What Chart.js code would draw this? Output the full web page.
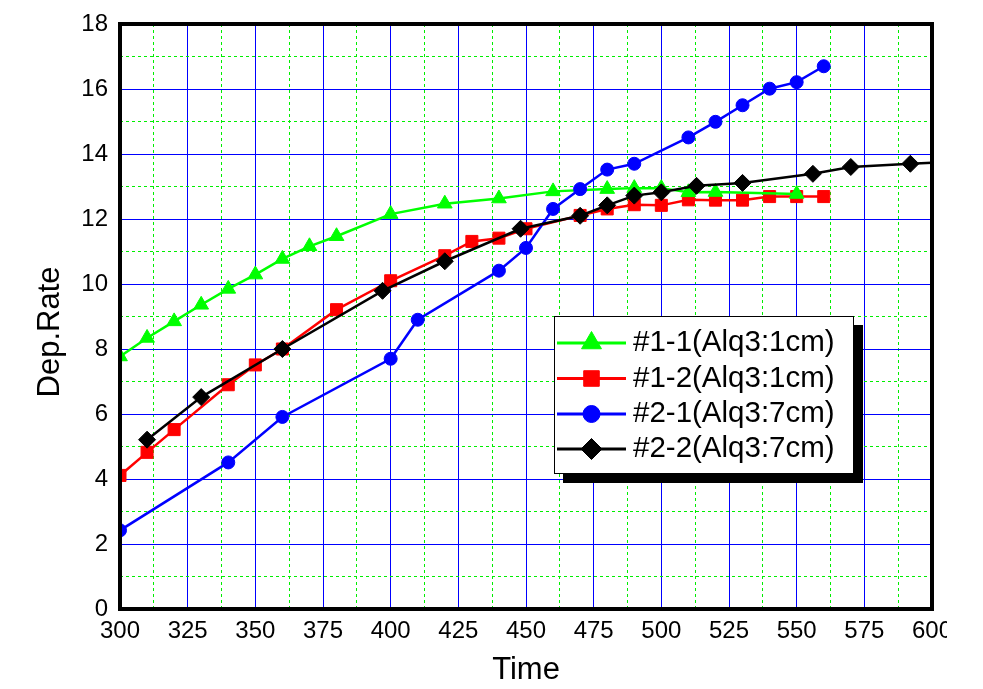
<!DOCTYPE html>
<html>
<head>
<meta charset="utf-8">
<script src="https://cdn.jsdelivr.net/npm/chart.js@4/dist/chart.umd.min.js"></script>
<style>
  html, body { margin: 0; padding: 0; background: #ffffff; }
  #wrap { position: absolute; left: 0; top: 0; width: 947px; height: 689px; }
</style>
</head>
<body>
<div id="wrap"><canvas id="c" width="947" height="689"></canvas></div>
<script>
// ---- data ----
const seriesLabels = ['#1-1(Alq3:1cm)', '#1-2(Alq3:1cm)', '#2-1(Alq3:7cm)', '#2-2(Alq3:7cm)'];

const time11 = [300, 310, 320, 330, 340, 350, 360, 370, 380, 400, 420, 440, 460, 480, 490, 500, 510, 520, 550];
const rate11 = [7.77, 8.34, 8.85, 9.36, 9.85, 10.29, 10.77, 11.16, 11.47, 12.15, 12.47, 12.63, 12.85, 12.92, 12.95, 12.95, 12.82, 12.83, 12.77];

const time12 = [300, 310, 320, 340, 350, 360, 380, 400, 420, 430, 440, 450, 470, 480, 490, 500, 510, 520, 530, 540, 550, 560];
const rate12 = [4.11, 4.82, 5.52, 6.90, 7.51, 8.0, 9.21, 10.10, 10.87, 11.31, 11.41, 11.70, 12.11, 12.31, 12.44, 12.42, 12.59, 12.58, 12.58, 12.69, 12.69, 12.69];

const time21 = [300, 340, 360, 400, 410, 440, 450, 460, 470, 480, 490, 510, 520, 530, 540, 550, 560];
const rate21 = [2.42, 4.51, 5.91, 7.70, 8.90, 10.41, 11.11, 12.31, 12.92, 13.52, 13.70, 14.51, 14.99, 15.50, 16.01, 16.21, 16.70];

const time22 = [310, 330, 360, 397, 420, 448, 470, 480, 490, 500, 513, 530, 556, 570, 592, 612];
const rate22 = [5.21, 6.52, 8.0, 9.79, 10.70, 11.70, 12.10, 12.42, 12.72, 12.82, 13.02, 13.11, 13.39, 13.60, 13.70, 13.78];

const xTickLabels = ['300', '325', '350', '375', '400', '425', '450', '475', '500', '525', '550', '575', '600'];
const yTickLabels = ['0', '2', '4', '6', '8', '10', '12', '14', '16', '18'];

const xTitle = 'Time';
const yTitle = 'Dep.Rate';

// ---- helpers ----
function pairs(xs, ys) { return xs.map((x, i) => ({ x: x, y: ys[i] })); }

const FONT = '"Liberation Sans", Arial, "DejaVu Sans", sans-serif';

const colors = ['#00ff00', '#ff0000', '#0000ff', '#000000'];
const styles = ['triangle', 'rect', 'circle', 'rectRot'];
const radii = [8.5, 8.5, 6.5, 8.5];
const legendRadii = [11.5, 11, 8.5, 10.5];
const drawOrder = [2, 3, 1, 0];
const xs = [time11, time12, time21, time22];
const ys = [rate11, rate12, rate21, rate22];

const datasets = seriesLabels.map((label, i) => ({
  label: label,
  data: pairs(xs[i], ys[i]),
  borderColor: colors[i],
  backgroundColor: colors[i],
  borderWidth: 2.5,
  pointStyle: styles[i],
  pointRadius: radii[i],
  pointHoverRadius: radii[i],
  pointBorderWidth: 1,
  pointBorderColor: colors[i],
  pointBackgroundColor: colors[i],
  tension: 0,
  fill: false,
  order: drawOrder[i]
}));

const decorPlugin = {
  id: 'decor',
  afterDraw(chart) {
    const ctx = chart.ctx;
    const a = chart.chartArea;
    ctx.save();
    // thick frame
    ctx.strokeStyle = '#000';
    ctx.lineWidth = 4;
    ctx.strokeRect(a.left, a.top, a.right - a.left, a.bottom - a.top);

    // y axis title
    ctx.fillStyle = '#000';
    ctx.font = '31px ' + FONT;
    ctx.textAlign = 'center';
    ctx.textBaseline = 'middle';
    ctx.translate(50, 332);
    ctx.rotate(-Math.PI / 2);
    ctx.fillText(yTitle, 0, 0);
    ctx.setTransform(1, 0, 0, 1, 0, 0);

    // legend box with shadow
    const bx = 554, by = 316, bw = 299, bh = 157, sh = 9;
    ctx.fillStyle = '#000';
    ctx.fillRect(bx + sh, by + sh, bw + 1, bh + 1);
    ctx.fillStyle = '#fff';
    ctx.fillRect(bx, by, bw, bh);
    ctx.strokeStyle = '#000';
    ctx.lineWidth = 1;
    ctx.strokeRect(bx + 0.5, by + 0.5, bw, bh);

    const rowY = [343, 378.5, 414, 449];
    chart.data.datasets.forEach((ds, i) => {
      const y = rowY[i];
      ctx.strokeStyle = ds.borderColor;
      ctx.lineWidth = 3;
      ctx.beginPath();
      ctx.moveTo(557, y);
      ctx.lineTo(626, y);
      ctx.stroke();
      ctx.fillStyle = ds.backgroundColor;
      ctx.strokeStyle = ds.borderColor;
      ctx.lineWidth = 1;
      Chart.helpers.drawPoint(ctx, { pointStyle: ds.pointStyle, radius: legendRadii[i], rotation: 0, borderWidth: 1 }, 591.5, y);
      ctx.fillStyle = '#000';
      ctx.font = '29.5px ' + FONT;
      ctx.textAlign = 'left';
      ctx.textBaseline = 'middle';
      ctx.fillText(ds.label, 633, y);
    });
    ctx.restore();
  }
};

const isMajorX = v => Math.abs(v % 25) < 1e-6;
const isMajorY = v => Math.abs(v % 2) < 1e-6;

new Chart(document.getElementById('c'), {
  type: 'line',
  data: { datasets: datasets },
  options: {
    responsive: false,
    animation: false,
    events: [],
    layout: { padding: { top: 24, right: 15, left: 0, bottom: 0 } },
    plugins: {
      legend: { display: false },
      tooltip: { enabled: false },
      title: { display: false }
    },
    scales: {
      x: {
        type: 'linear',
        min: 300,
        max: 600,
        afterFit(scale) { scale.height = 80; scale.paddingLeft = 0; scale.paddingRight = 0; },
        ticks: {
          stepSize: 12.5,
          autoSkip: false,
          maxRotation: 0,
          padding: 8,
          color: '#000',
          font: { family: FONT, size: 24 },
          callback: (v) => {
            if (!isMajorX(v)) return '';
            const s = String(v);
            return xTickLabels.includes(s) ? s : '';
          }
        },
        grid: {
          drawTicks: false,
          lineWidth: 1,
          color: ctx => (ctx.tick && isMajorX(ctx.tick.value)) ? '#0000ff' : '#00ee00'
        },
        border: {
          display: false,
          dash: ctx => (ctx.tick && isMajorX(ctx.tick.value)) ? [] : [3, 3]
        },
        title: {
          display: true,
          text: xTitle,
          color: '#000',
          font: { family: FONT, size: 31 },
          padding: { top: 0, bottom: 0 }
        }
      },
      y: {
        type: 'linear',
        min: 0,
        max: 18,
        afterFit(scale) { scale.width = 120; scale.paddingTop = 0; scale.paddingBottom = 0; },
        ticks: {
          stepSize: 1,
          autoSkip: false,
          padding: 12,
          color: '#000',
          font: { family: FONT, size: 24 },
          callback: (v) => {
            if (!isMajorY(v)) return '';
            const s = String(v);
            return yTickLabels.includes(s) ? s : '';
          }
        },
        grid: {
          drawTicks: false,
          lineWidth: 1,
          color: ctx => (ctx.tick && isMajorY(ctx.tick.value)) ? '#0000ff' : '#00ee00'
        },
        border: {
          display: false,
          dash: ctx => (ctx.tick && isMajorY(ctx.tick.value)) ? [] : [3, 3]
        }
      }
    }
  },
  plugins: [decorPlugin]
});
</script>
</body>
</html>
